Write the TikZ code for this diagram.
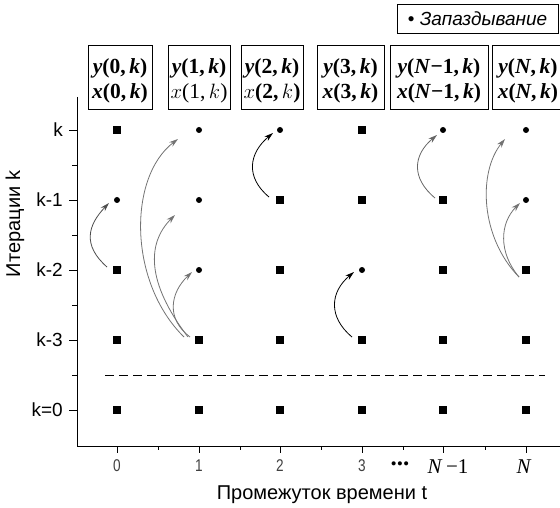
\documentclass[tikz,border=0pt]{standalone}
\usepackage{fontspec}
\setmainfont{Liberation Sans}
\newfontfamily\tnr{Liberation Serif}
\usetikzlibrary{arrows.meta,calc}
\begin{document}
\begin{tikzpicture}[x=1pt,y=1pt,
  sq/.style={fill=black,rectangle,minimum size=8.5pt,inner sep=0pt,outer sep=0pt},
  dl/.style={fill=black,circle,minimum size=6pt,inner sep=0pt,outer sep=0pt},
  hdr/.style={draw,line width=0.9pt,minimum height=64pt,inner sep=0pt},
  hdrtext/.style={inner sep=0pt,align=center,font=\tnr\bfseries\fontsize{21.5}{25}\selectfont},
  ylab/.style={anchor=east,inner sep=0pt,font=\fontsize{19}{19}\selectfont},
  xlab/.style={inner sep=0pt,text=black!75,xscale=0.8,font=\fontsize{17}{17}\selectfont},
  mlab/.style={inner sep=0pt,font=\tnr\fontsize{21}{21}\selectfont},
  arr/.style={-{Stealth[length=9pt,width=5.5pt]},line width=0.8pt},
  axis/.style={line width=0.8pt},
]
\useasboundingbox (0,0) rectangle (560,507);

% legend
\node[draw,line width=0.8pt,minimum width=161pt,minimum height=29pt,inner sep=0pt,
  font=\fontsize{19}{19}\selectfont] (leg) at (477.5,488.5) {\textbullet\ \textit{Запаздывание}};

% header boxes
\node[hdr,minimum width=64pt] (h0) at (120,430) {};
\node[hdr,minimum width=62pt] (h1) at (199,430) {};
\node[hdr,minimum width=62pt] (h2) at (272,430) {};
\node[hdr,minimum width=67pt] (h3) at (350.5,430) {};
\node[hdr,minimum width=98pt] (h4) at (439,430) {};
\node[hdr,minimum width=76pt] (h5) at (530,430) {};
\node[hdrtext] (h0t) at ($(h0)+(0,-4)$) {\textit{y}(0,\,\textit{k})\\\textit{x}(0,\,\textit{k})};
\node[hdrtext] (h1t) at ($(h1)+(0,-4)$) {\textit{y}(1,\,\textit{k})\\\mdseries$x$(1,\,$k$)};
\node[hdrtext] (h2t) at ($(h2)+(0,-4)$) {\textit{y}(2,\,\textit{k})\\$x$(2,\,$k$)};
\node[hdrtext] (h3t) at ($(h3)+(0,-4)$) {\textit{y}(3,\,\textit{k})\\\textit{x}(3,\,\textit{k})};
\node[hdrtext] (h4t) at ($(h4)+(0,-4)$) {\textit{y}(\textit{N}−1,\,\textit{k})\\\textit{x}(\textit{N}−1,\,\textit{k})};
\node[hdrtext,anchor=west] (h5t) at ($(h5.west)+(6,-4)$) {\textit{y}(\textit{N},\,\textit{k})\\\textit{x}(\textit{N},\,\textit{k})};

% axes
\coordinate (ytop) at (77,410);
\coordinate (orig) at (77,61);
\coordinate (xend) at (560,61);
\draw[axis] (ytop) -- (orig) -- (xend);
\foreach \y in {377,307,237,167,97} \draw[axis] (69,\y) -- (77,\y);
\foreach \y in {342,272,202,132} \draw[axis] (72,\y) -- (77,\y);
\foreach \x in {117,199,280,362,443,526} \draw[axis] (\x,61) -- (\x,54);
\foreach \x in {158,240,321,403,485} \draw[axis] (\x,61) -- (\x,57);

% row labels
\node[ylab] (lk)  at (63,377) {k};
\node[ylab] (lk1) at (63,307) {k-1};
\node[ylab] (lk2) at (63,237) {k-2};
\node[ylab] (lk3) at (63,167) {k-3};
\node[ylab] (lk0) at (63,97)  {k=0};

% column labels
\node[xlab] (t0) at (117,41) {0};
\node[xlab] (t1) at (199,41) {1};
\node[xlab] (t2) at (280,41) {2};
\node[xlab] (t3) at (362,41) {3};
\node[mlab,font=\tnr\fontsize{25}{25}\selectfont] (td) at (400,43) {\bfseries...};
\node[mlab] (tn1) at (448,40) {\textit{N}\,−1};
\node[mlab] (tn) at (524,40) {\textit{N}};

% axis titles
\node[rotate=90,font=\fontsize{20}{20}\selectfont] (ty) at (15,283) {Итерации k};
\node[font=\fontsize{20}{20}\selectfont] (tx) at (322,12) {Промежуток времени t};

% dashed separator
\coordinate (ds) at (105,132);
\coordinate (de) at (545,132);
\draw[line width=0.8pt,dash pattern=on 9pt off 5pt] (ds) -- (de);

% grid points
\foreach \c/\x/\sa/\sb/\sc/\sd in {0/117/sq/dl/sq/sq, 1/199/dl/dl/dl/sq, 2/280/dl/sq/sq/sq,
    3/362/sq/sq/dl/sq, 4/443/dl/sq/sq/sq, 5/526/dl/dl/sq/sq}{
  \node[\sa] (n\c-a) at (\x,377) {};
  \node[\sb] (n\c-b) at (\x,307) {};
  \node[\sc] (n\c-c) at (\x,237) {};
  \node[\sd] (n\c-d) at (\x,167) {};
  \node[sq]  (n\c-e) at (\x,97) {};
}

% delay arrows
\draw[arr,black!70] ($(n0-c)+(-10,3)$) .. controls +(-25,22) and +(-21,-22) .. ($(n0-b)+(-8,-3)$);
\draw[arr,black!55] ($(n1-d)+(-9,3)$) .. controls +(-24,18) and +(-22,-21) .. ($(n1-c)+(-7,-2)$);
\draw[arr,black!55] ($(n1-d)+(-11,3)$) .. controls +(-42,55) and +(-28,-28) .. ($(n1-b)+(-24,-15)$);
\draw[arr,black!55] ($(n1-d)+(-15,3)$) .. controls +(-56,55) and +(-50,-38) .. ($(n1-a)+(-21,-9)$);
\draw[arr,black] ($(n2-b)+(-11,3)$) .. controls +(-24,20) and +(-24,-20) .. ($(n2-a)+(-7,-3)$);
\draw[arr,black] ($(n3-d)+(-10,3)$) .. controls +(-24,20) and +(-24,-20) .. ($(n3-c)+(-8,-2)$);
\draw[arr,black!60] ($(n4-b)+(-8,2)$) .. controls +(-24,20) and +(-24,-20) .. ($(n4-a)+(-6,-5)$);
\draw[arr,black!55] ($(n5-c)+(-7,-7)$) .. controls +(-21,25) and +(-20,-20) .. ($(n5-b)+(-6,-3)$);
\draw[arr,black!55] ($(n5-c)+(-7,-7)$) .. controls +(-39,40) and +(-27,-33) .. ($(n5-a)+(-21,-9)$);
\end{tikzpicture}
\end{document}
